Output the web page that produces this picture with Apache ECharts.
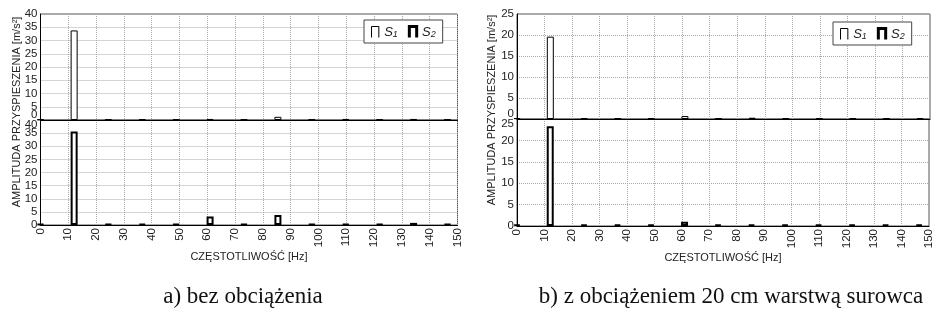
<!DOCTYPE html>
<html><head><meta charset="utf-8">
<script src="https://cdn.jsdelivr.net/npm/echarts@6/dist/echarts.min.js"></script>
<style>html,body{margin:0;padding:0;background:#fff}#c{width:935px;height:321px}</style>
</head><body><div id="c"></div><script>
// Frequencies of the spectral lines [Hz]
const freqs = [0, 12.1, 24.4, 36.6, 48.8, 61, 73.2, 85.4, 97.6, 109.8, 122, 134.2, 146.4];
// a) bez obciążenia
const aS1 = [0.2, 33.8, 0.2, 0.3, 0.2, 0.4, 0.2, 1.2, 0.2, 0.4, 0.2, 0.4, 0.2];
const aS2 = [0.3, 35.6, 0.3, 0.4, 0.3, 3.2, 0.3, 3.8, 0.3, 0.3, 0.3, 0.8, 0.3];
// b) z obciążeniem 20 cm warstwą surowca
const bS1 = [0.2, 19.6, 0.2, 0.2, 0.2, 0.7, 0.2, 0.3, 0.2, 0.2, 0.2, 0.2, 0.2];
const bS2 = [0.3, 23.3, 0.3, 0.3, 0.3, 1.0, 0.3, 0.3, 0.3, 0.3, 0.3, 0.3, 0.3];
const seriesNames = ['S1', 'S2'];
const xTicks = {min: 0, max: 150, interval: 10};
const yTicksA = {min: 0, max: 40, interval: 5};
const yTicksB = {min: 0, max: 25, interval: 5};
const yAxisTitle = 'AMPLITUDA PRZYSPIESZENIA [m/s²]';
const xAxisTitle = 'CZĘSTOTLIWOŚĆ [Hz]';
const captionA = 'a) bez obciążenia';
const captionB = 'b) z obciążeniem 20 cm warstwą surowca';

const FONT = 'Liberation Sans, Arial, sans-serif';
const chart = echarts.init(document.getElementById('c'), null, {renderer: 'canvas'});

const grids = [
  {left: 40.5, top: 14, width: 417, height: 106},
  {left: 40.5, top: 120, width: 417, height: 105},
  {left: 517, top: 14, width: 413, height: 105},
  {left: 517, top: 119, width: 413, height: 107}
].map(g => Object.assign({show: true, borderColor: '#555', borderWidth: 1, containLabel: false}, g));

const split = {show: true, lineStyle: {type: 'dotted', color: '#aaa', width: 1}};
const LBL = {fontSize: 11.5, fontFamily: FONT, color: '#222'};

function xAx(i, bottom) {
  return {
    gridIndex: i, type: 'value', position: 'bottom', min: xTicks.min, max: xTicks.max, interval: xTicks.interval,
    axisLine: {show: true, onZero: false, lineStyle: {color: '#000', width: 1}},
    axisTick: {show: false},
    axisLabel: Object.assign({show: bottom, rotate: 90, margin: 3, showMinLabel: true, showMaxLabel: true}, LBL),
    splitLine: split,
    name: bottom ? xAxisTitle : '', nameLocation: 'middle', nameGap: 19,
    nameTextStyle: {fontSize: 11, fontFamily: FONT, color: '#222'}
  };
}
// main value axis of a subplot (edge label that touches the neighbour subplot is left out)
function yAx(i, t, top) {
  return {
    gridIndex: i, type: 'value', position: 'left', offset: 0, min: t.min, max: t.max, interval: t.interval,
    axisLine: {show: true, onZero: false, lineStyle: {color: '#000', width: 1}},
    axisTick: {show: false},
    axisLabel: Object.assign({margin: 3, showMinLabel: !top, showMaxLabel: top}, LBL),
    splitLine: split
  };
}
// same scale, only carries the shared-edge label, nudged away from the neighbour
function yEdge(i, t, top) {
  const edge = top ? t.min : t.max;
  return {
    gridIndex: i, type: 'value', position: 'left', offset: 0, min: t.min, max: t.max, interval: t.interval,
    axisLine: {show: false, onZero: false}, axisTick: {show: false}, splitLine: {show: false},
    axisLabel: Object.assign({
      margin: 3, showMinLabel: true, showMaxLabel: true,
      formatter: v => v === edge ? '{e|' + v + '}' : '',
      rich: {e: Object.assign({padding: top ? [0, 0, 10, 0] : [10, 0, 0, 0]}, LBL)}
    }, LBL)
  };
}

function bars(name, vals, gi, bw) {
  return {
    type: 'bar', name: name, xAxisIndex: gi, yAxisIndex: gi,
    data: freqs.map((f, k) => [f, vals[k]]),
    barWidth: 7, clip: true, animation: false,
    itemStyle: {color: '#fff', borderColor: '#000', borderWidth: bw}
  };
}

const iconPath = 'path://M0,12L0,0L8,0L8,12';
function legend(left, top) {
  return {
    left: left, top: top, orient: 'horizontal', selectedMode: false,
    data: [
      {name: seriesNames[0], icon: iconPath, itemStyle: {color: 'rgba(0,0,0,0)', borderColor: '#000', borderWidth: 1}},
      {name: seriesNames[1], icon: iconPath, itemStyle: {color: 'rgba(0,0,0,0)', borderColor: '#000', borderWidth: 3}}
    ],
    itemWidth: 8, itemHeight: 11, itemGap: 10,
    padding: [4, 7, 4, 7], borderColor: '#444', borderWidth: 1, backgroundColor: '#fff',
    formatter: n => '{s|S}{d|' + n.slice(1) + '}',
    textStyle: {
      fontFamily: FONT, color: '#222',
      rich: {
        s: {fontSize: 13, fontStyle: 'italic', fontFamily: FONT, color: '#222', lineHeight: 14},
        d: {fontSize: 9, fontStyle: 'italic', fontFamily: FONT, color: '#222', verticalAlign: 'bottom', lineHeight: 10, padding: [6, 0, 0, 0]}
      }
    }
  };
}

function vtext(x, y, text) {
  return {type: 'text', x: x, y: y, rotation: Math.PI / 2, silent: true,
    style: {text: text, fontSize: 11, fontFamily: FONT, fill: '#222', align: 'center', verticalAlign: 'middle'}};
}
function caption(x, y, text) {
  return {type: 'text', x: x, y: y, silent: true,
    style: {text: text, fontSize: 23, fontFamily: 'Liberation Serif, Times New Roman, serif', fill: '#111', align: 'center', verticalAlign: 'middle'}};
}

chart.setOption({
  animation: false,
  backgroundColor: '#fff',
  grid: grids,
  xAxis: [xAx(0, false), xAx(1, true), xAx(2, false), xAx(3, true)],
  yAxis: [
    yAx(0, yTicksA, true), yAx(1, yTicksA, false), yAx(2, yTicksB, true), yAx(3, yTicksB, false),
    yEdge(0, yTicksA, true), yEdge(1, yTicksA, false), yEdge(2, yTicksB, true), yEdge(3, yTicksB, false)
  ],
  legend: [legend(364, 20), legend(833, 22)],
  series: [
    bars(seriesNames[0], aS1, 0, 1),
    bars(seriesNames[1], aS2, 1, 2),
    bars(seriesNames[0], bS1, 2, 1),
    bars(seriesNames[1], bS2, 3, 2)
  ],
  graphic: [
    vtext(17, 112, yAxisTitle),
    vtext(492, 110, yAxisTitle),
    caption(243, 297, captionA),
    caption(731, 297, captionB)
  ]
});
</script></body></html>
